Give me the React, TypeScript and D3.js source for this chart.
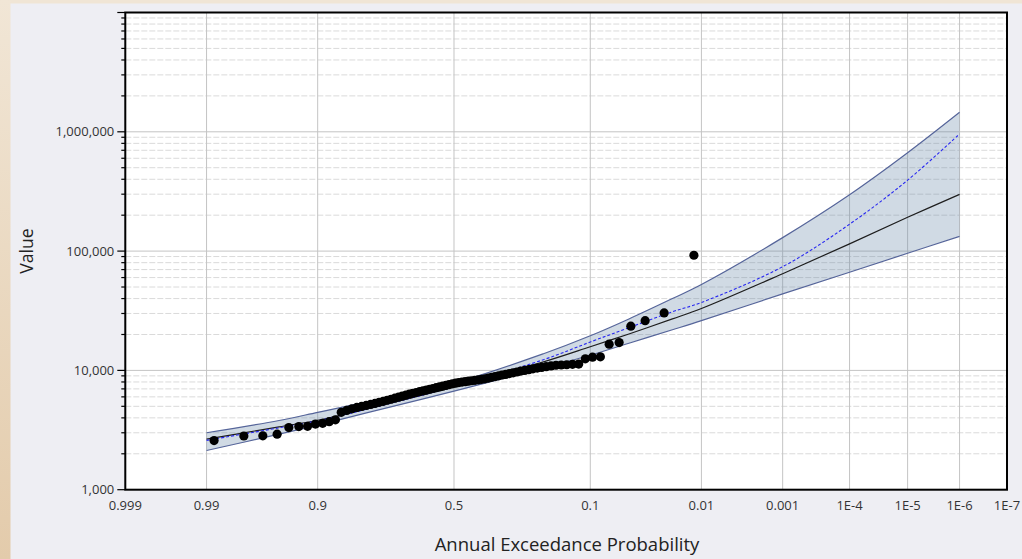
import React from 'react';
import * as d3 from 'd3';

// ---------- data ----------
const X_TICKS = [0.999, 0.99, 0.9, 0.5, 0.1, 0.01, 0.001, 1e-4, 1e-5, 1e-6, 1e-7];
const X_TICK_LABELS = ['0.999', '0.99', '0.9', '0.5', '0.1', '0.01', '0.001', '1E-4', '1E-5', '1E-6', '1E-7'];
const Y_TICKS = [1000, 10000, 100000, 1000000];
const Y_TICK_LABELS = ['1,000', '10,000', '100,000', '1,000,000'];

// observed annual maxima, ranked from largest to smallest
const OBSERVED = [
  92300, 30300, 26100, 23500, 17100, 16600, 13000, 12900, 12500, 11300,
  11250, 11150, 11100, 11050, 10900, 10750, 10600, 10450, 10300, 10150,
  10000, 9880, 9700, 9550, 9400, 9250, 9150, 9000, 8880, 8750,
  8620, 8500, 8420, 8340, 8260, 8190, 8120, 8050, 7980, 7900,
  7820, 7720, 7600, 7480, 7370, 7270, 7170, 7050, 6950, 6840,
  6740, 6640, 6530, 6430, 6320, 6200, 6080, 5960, 5850, 5730,
  5620, 5510, 5400, 5290, 5190, 5090, 4990, 4890, 4760, 4620,
  4450, 3850, 3720, 3600, 3550, 3400, 3380, 3320, 2920, 2830,
  2820, 2580,
];

const CURVE_PROBS = [0.99, 0.95, 0.9, 0.8, 0.5, 0.2, 0.1, 0.05, 0.02, 0.01, 0.001, 1e-4, 1e-5, 1e-6];
const FITTED = [2650, 3365, 3820, 4700, 7260, 11800, 15800, 20200, 27000, 33000, 64600, 115000, 192000, 298600];
const EXPECTED = [2590, 3300, 3780, 4680, 7330, 12300, 17300, 22800, 31000, 37100, 74000, 168000, 393000, 960000];
const UPPER = [3000, 3800, 4450, 5400, 7850, 13800, 19500, 27000, 40000, 52500, 129700, 296600, 667000, 1456000];
const LOWER = [2130, 2920, 3480, 4360, 6700, 10500, 13400, 16900, 21900, 26100, 43800, 66500, 95900, 133000];

// ---------- helpers ----------
function invNorm(p: number): number {
  const a = [-3.969683028665376e1, 2.209460984245205e2, -2.759285104469687e2, 1.38357751867269e2, -3.066479806614716e1, 2.506628277459239];
  const b = [-5.447609879822406e1, 1.615858368580409e2, -1.556989798598866e2, 6.680131188771972e1, -1.328068155288572e1];
  const c = [-7.784894002430293e-3, -3.223964580411365e-1, -2.400758277161838, -2.549671635740340, 4.374664141464968, 2.938163982698783];
  const d = [7.784695709041462e-3, 3.224671290700398e-1, 2.445134137142996, 3.754408661907416];
  const pl = 0.02425;
  let q: number, r: number;
  if (p < pl) {
    q = Math.sqrt(-2 * Math.log(p));
    return (((((c[0] * q + c[1]) * q + c[2]) * q + c[3]) * q + c[4]) * q + c[5]) / ((((d[0] * q + d[1]) * q + d[2]) * q + d[3]) * q + 1);
  }
  if (p <= 1 - pl) {
    q = p - 0.5; r = q * q;
    return (((((a[0] * r + a[1]) * r + a[2]) * r + a[3]) * r + a[4]) * r + a[5]) * q / (((((b[0] * r + b[1]) * r + b[2]) * r + b[3]) * r + b[4]) * r + 1);
  }
  q = Math.sqrt(-2 * Math.log(1 - p));
  return -(((((c[0] * q + c[1]) * q + c[2]) * q + c[3]) * q + c[4]) * q + c[5]) / ((((d[0] * q + d[1]) * q + d[2]) * q + d[3]) * q + 1);
}
// exceedance probability -> standard normal variate
const zOf = (p: number) => -invNorm(p);

const W = 1022, H = 559;
const L = 125.3, R = 1007, T = 12.5, B = 489.7;
const FONT = "'Open Sans', 'Noto Sans', sans-serif";

export default function App() {
  const x = d3.scaleLinear().domain([zOf(0.999), zOf(1e-7)]).range([L, R]);
  const y = d3.scaleLog().domain([1000, 1e7]).range([B, T]);
  const px = (p: number) => x(zOf(p));

  const n = OBSERVED.length;
  const points = OBSERVED.map((v, i) => ({ p: (i + 1) / (n + 1), v }));

  const lineGen = d3.line<[number, number]>().x(d => px(d[0])).y(d => y(d[1])).curve(d3.curveCatmullRom.alpha(0.5));
  const mk = (vals: number[]) => CURVE_PROBS.map((p, i) => [p, vals[i]] as [number, number]);
  const area = d3.area<number>()
    .x((_, i) => px(CURVE_PROBS[i]))
    .y0((_, i) => y(LOWER[i]))
    .y1((_, i) => y(UPPER[i]))
    .curve(d3.curveCatmullRom.alpha(0.5));

  const minor: number[] = [];
  for (let e = 3; e < 7; e++) for (let k = 2; k <= 9; k++) minor.push(k * Math.pow(10, e));
  const major = [...Y_TICKS, 1e7];

  return (
    <div style={{ position: 'fixed', left: 0, top: 0, width: W, height: H }}>
      <svg width={W} height={H} style={{ display: 'block' }}>
        <defs>
          <linearGradient id="side" x1="0" y1="0" x2="0" y2="1">
            <stop offset="0" stopColor="#f1e6d6" />
            <stop offset="1" stopColor="#e3cbab" />
          </linearGradient>
          <clipPath id="plotclip"><rect x={L} y={T} width={R - L} height={B - T} /></clipPath>
        </defs>
        <rect x={0} y={0} width={W} height={H} fill="#eeeef3" />
        <rect x={0} y={0} width={W} height={3.5} fill="#f0e5d5" />
        <rect x={0} y={0} width={10.5} height={H} fill="url(#side)" />
        <rect x={L} y={T} width={R - L} height={B - T} fill="#ffffff" />

        {/* minor dashed horizontal grid */}
        {minor.map(v => (
          <line key={'mg' + v} x1={L} x2={R} y1={y(v)} y2={y(v)} stroke="#dadada" strokeWidth={1} strokeDasharray="6,2" />
        ))}
        {/* major grid */}
        {major.map(v => (
          <line key={'Mg' + v} x1={L} x2={R} y1={y(v)} y2={y(v)} stroke="#c4c4c4" strokeWidth={1} />
        ))}
        {X_TICKS.map(p => (
          <line key={'xg' + p} x1={px(p)} x2={px(p)} y1={T} y2={B} stroke="#c4c4c4" strokeWidth={1} />
        ))}

        <g clipPath="url(#plotclip)">
          <path d={area(CURVE_PROBS) || ''} fill="rgba(98,132,165,0.3)" stroke="none" />
          <path d={lineGen(mk(UPPER)) || ''} fill="none" stroke="#56659a" strokeWidth={1.2} />
          <path d={lineGen(mk(LOWER)) || ''} fill="none" stroke="#56659a" strokeWidth={1.2} />
          <path d={lineGen(mk(FITTED)) || ''} fill="none" stroke="#1e1e1e" strokeWidth={1.2} />
          <path d={lineGen(mk(EXPECTED)) || ''} fill="none" stroke="#2727f0" strokeWidth={1.1} strokeDasharray="3,2" />
          {points.map((d, i) => (
            <circle key={'pt' + i} cx={px(d.p)} cy={y(d.v)} r={4.6} fill="#000" />
          ))}
        </g>

        {/* frame */}
        <rect x={L} y={T} width={R - L} height={B - T} fill="none" stroke="#000" strokeWidth={2} />

        {/* y ticks */}
        {minor.map(v => (
          <line key={'mt' + v} x1={L - 4} x2={L} y1={y(v)} y2={y(v)} stroke="#000" strokeWidth={1.2} />
        ))}
        {major.map(v => (
          <line key={'Mt' + v} x1={L - 8} x2={L} y1={y(v)} y2={y(v)} stroke="#000" strokeWidth={1.2} />
        ))}
        {Y_TICKS.map((v, i) => (
          <text key={'yl' + v} x={L - 11} y={y(v)} dy="0.35em" textAnchor="end" fontFamily={FONT} fontSize={13} fill="#333">
            {Y_TICK_LABELS[i]}
          </text>
        ))}
        {X_TICKS.map((p, i) => (
          <text key={'xl' + p} x={px(p)} y={510} textAnchor="middle" fontFamily={FONT} fontSize={13} fill="#333">
            {X_TICK_LABELS[i]}
          </text>
        ))}

        <text x={0} y={0} transform={`translate(33,${(T + B) / 2}) rotate(-90)`} textAnchor="middle" fontFamily={FONT} fontSize={17.5} fill="#222">
          Value
        </text>
        <text x={567} y={551} textAnchor="middle" fontFamily={FONT} fontSize={18.5} fill="#222">
          Annual Exceedance Probability
        </text>
      </svg>
    </div>
  );
}
